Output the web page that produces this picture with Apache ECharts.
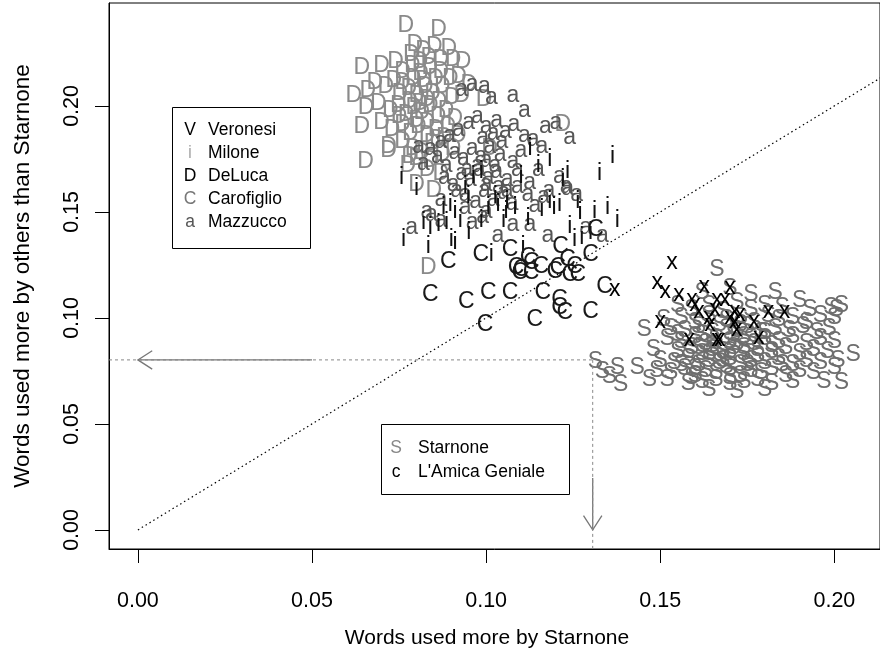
<!DOCTYPE html>
<html>
<head>
<meta charset="utf-8">
<script src="https://cdn.jsdelivr.net/npm/echarts@6/dist/echarts.min.js"></script>
<style>
html, body { margin: 0; padding: 0; background: #fff; }
#chart { width: 880px; height: 658px; }
</style>
</head>
<body>
<div id="chart"></div>
<script>
// tick labels
const xTicks = [0, 0.05, 0.10, 0.15, 0.20];
const yTicks = [0, 0.05, 0.10, 0.15, 0.20];

// D = DeLuca
const deLuca = [
  [0.0769,0.238],[0.0863,0.236],[0.0795,0.229],[0.0820,0.226],[0.0851,0.228],[0.0893,0.227],[0.0905,0.222],[0.0934,0.221],
  [0.0643,0.218],[0.0700,0.219],[0.0740,0.221],[0.0760,0.216],[0.0788,0.219],[0.0812,0.215],[0.0838,0.218],[0.0870,0.216],[0.0897,0.213],[0.0921,0.214],[0.0950,0.210],
  [0.0620,0.205],[0.0660,0.207],[0.0680,0.211],[0.0712,0.209],[0.0735,0.212],[0.0752,0.206],[0.0778,0.208],[0.0801,0.205],[0.0825,0.209],[0.0846,0.206],[0.0874,0.209],[0.0902,0.204],[0.0930,0.205],[0.0994,0.203],
  [0.0655,0.199],[0.0690,0.201],[0.0725,0.198],[0.0748,0.200],[0.0770,0.196],[0.0792,0.199],[0.0815,0.197],[0.0840,0.200],[0.0862,0.195],[0.0885,0.198],[0.0910,0.194],
  [0.0643,0.190],[0.0700,0.192],[0.0730,0.189],[0.0760,0.191],[0.0782,0.187],[0.0805,0.190],[0.0830,0.186],[0.0856,0.189],[0.0880,0.185],[0.0920,0.186],
  [0.0720,0.181],[0.0760,0.183],[0.0790,0.180],[0.0815,0.178],[0.0845,0.182],[0.0875,0.177],
  [0.0654,0.1736],[0.0720,0.179],[0.0775,0.172],[0.0800,0.175],[0.0830,0.170],[0.0870,0.168],
  [0.0800,0.163],[0.0850,0.160],[0.0834,0.1236],[0.1220,0.191],[0.1010,0.180],
  [0.0785,0.224],[0.0810,0.221],[0.0835,0.223],[0.0870,0.222],[0.0760,0.211],[0.0790,0.213],[0.0820,0.212],[0.0855,0.213],[0.0780,0.202],[0.0810,0.201],
  [0.0830,0.203],[0.0865,0.202],[0.0750,0.195],[0.0800,0.193],[0.0830,0.192],[0.0860,0.184],[0.0890,0.190],[0.0905,0.180],[0.0780,0.176],[0.0840,0.174]
];

// a = Mazzucco
const mazzucco = [
  [0.0930,0.2075],[0.0960,0.210],[0.0995,0.209],[0.1015,0.204],[0.1077,0.205],[0.1110,0.198],[0.1170,0.190],[0.1240,0.185],[0.1200,0.192],
  [0.0806,0.181],[0.0840,0.180],[0.0870,0.183],[0.0895,0.186],[0.0920,0.189],[0.0950,0.192],[0.0975,0.195],[0.1000,0.190],[0.1030,0.193],[0.1055,0.188],[0.1080,0.191],[0.1110,0.186],[0.1135,0.184],[0.1160,0.181],
  [0.0820,0.173],[0.0860,0.176],[0.0885,0.172],[0.0910,0.178],[0.0935,0.175],[0.0960,0.180],[0.0985,0.176],[0.1010,0.181],[0.1040,0.177],[0.1077,0.1736],[0.1100,0.179],[0.1150,0.170],[0.1210,0.1665],[0.1230,0.162],
  [0.0880,0.166],[0.0905,0.163],[0.0930,0.168],[0.0955,0.165],[0.0980,0.170],[0.1005,0.166],[0.1030,0.169],[0.1060,0.165],[0.1090,0.162],[0.1125,0.164],[0.1180,0.160],[0.1234,0.161],
  [0.0940,0.158],[0.0970,0.155],[0.0995,0.160],[0.1020,0.156],[0.1050,0.159],[0.1075,0.154],[0.1140,0.153],[0.1165,0.157],[0.1260,0.158],
  [0.0786,0.1425],[0.0843,0.1486],[0.0870,0.146],[0.0940,0.152],[0.0990,0.148],[0.1034,0.139],[0.1077,0.144],[0.1126,0.144],[0.1177,0.139],[0.1286,0.1425],[0.1334,0.139],
  [0.0830,0.150],[0.0960,0.145],[0.1000,0.150],
  [0.0990,0.185],[0.1020,0.187],[0.1045,0.183],[0.0975,0.172],[0.1000,0.174],[0.1025,0.172],[0.0945,0.170],[0.1060,0.160],[0.1035,0.162],[0.1000,0.163],
  [0.0915,0.160],[0.1120,0.158],[0.0870,0.156],[0.1090,0.170]
];

// i = Milone
const milone = [
  [0.0757,0.166],[0.0800,0.161],[0.1363,0.176],[0.1326,0.168],[0.1349,0.152],[0.1377,0.146],[0.1311,0.150],[0.1263,0.1547],[0.1270,0.1495],[0.1254,0.1368],
  [0.1275,0.138],[0.1211,0.1533],[0.1195,0.152],[0.1183,0.1547],[0.1160,0.151],[0.1100,0.1665],[0.1083,0.152],[0.1057,0.150],[0.1106,0.1335],[0.1006,0.152],
  [0.0986,0.146],[0.0926,0.146],[0.0911,0.150],[0.0897,0.1533],[0.0878,0.152],[0.0886,0.1448],[0.0863,0.1439],[0.0840,0.1425],[0.0834,0.1335],[0.0900,0.1368],
  [0.0911,0.1354],[0.0763,0.1368],[0.1234,0.169],[0.1183,0.1745],[0.1150,0.172],[0.1126,0.180],[0.0949,0.157],[0.0940,0.162],[0.1026,0.157],[0.1034,0.1533],
  [0.1060,0.155],[0.0986,0.169],[0.0963,0.1665],[0.1220,0.165],[0.1015,0.1297],[0.1050,0.146],[0.1120,0.147],[0.1240,0.143],[0.0950,0.140],[0.0820,0.145],[0.1300,0.140]
];

// C = Carofiglio
const carofiglio = [
  [0.0891,0.1264],[0.0840,0.1108],[0.0943,0.1075],[0.1006,0.1118],[0.0997,0.0967],[0.1069,0.1118],[0.0985,0.1297],[0.1069,0.132],[0.1120,0.1283],[0.1130,0.126],
  [0.1100,0.1226],[0.1086,0.1236],[0.1097,0.1212],[0.1129,0.1212],[0.1157,0.124],[0.1163,0.1118],[0.1140,0.099],[0.1211,0.1085],[0.1211,0.105],[0.1226,0.1024],
  [0.1300,0.1028],[0.1214,0.1335],[0.1300,0.1297],[0.1314,0.1415],[0.1234,0.1274],[0.1254,0.124],[0.1206,0.1236],[0.1197,0.1217],[0.1240,0.1203],[0.1263,0.1203],[0.1340,0.1146]
];

// S = Starnone
const starnone = [
  [0.1663,0.1226],[0.1620,0.112],[0.1700,0.114],[0.1760,0.111],[0.1830,0.112],[0.1900,0.108],
  [0.1550,0.106],[0.1590,0.104],[0.1640,0.106],[0.1680,0.103],[0.1720,0.107],[0.1760,0.104],[0.1800,0.106],[0.1850,0.105],[0.1930,0.104],[0.1990,0.105],[0.2006,0.1038],[0.2020,0.106],
  [0.1510,0.099],[0.1560,0.100],[0.1600,0.098],[0.1640,0.101],[0.1690,0.099],[0.1730,0.100],[0.1770,0.098],[0.1810,0.101],[0.1840,0.099],[0.1880,0.100],[0.1920,0.098],[0.1960,0.101],[0.2000,0.100],
  [0.1454,0.0943],[0.1530,0.095],[0.1570,0.094],[0.1610,0.096],[0.1650,0.093],[0.1690,0.095],[0.1720,0.094],[0.1750,0.096],[0.1790,0.093],[0.1830,0.095],[0.1870,0.094],[0.1910,0.096],[0.1950,0.093],[0.1985,0.095],
  [0.1520,0.090],[0.1560,0.089],[0.1600,0.091],[0.1630,0.088],[0.1660,0.090],[0.1700,0.089],[0.1740,0.091],[0.1770,0.088],[0.1800,0.090],[0.1840,0.089],[0.1880,0.091],[0.1920,0.088],[0.1960,0.090],[0.2000,0.089],
  [0.1480,0.085],[0.1550,0.084],[0.1590,0.086],[0.1620,0.083],[0.1650,0.085],[0.1680,0.084],[0.1710,0.086],[0.1740,0.083],[0.1780,0.085],[0.1820,0.084],[0.1860,0.086],[0.1900,0.083],[0.1940,0.085],[0.1980,0.084],[0.2054,0.0825],
  [0.1314,0.0792],[0.1500,0.080],[0.1540,0.079],[0.1580,0.081],[0.1610,0.078],[0.1640,0.080],[0.1670,0.079],[0.1700,0.081],[0.1730,0.078],[0.1760,0.080],[0.1800,0.079],[0.1840,0.081],[0.1880,0.078],[0.1920,0.080],[0.1960,0.079],[0.2010,0.080],
  [0.1334,0.0745],[0.1377,0.0764],[0.1434,0.0764],[0.1490,0.075],[0.1530,0.074],[0.1570,0.076],[0.1600,0.073],[0.1630,0.075],[0.1660,0.074],[0.1700,0.076],[0.1730,0.073],[0.1760,0.075],[0.1790,0.074],[0.1820,0.076],[0.1860,0.073],[0.1900,0.075],[0.1940,0.074],[0.2000,0.0764],
  [0.1354,0.0722],[0.1386,0.0684],[0.1469,0.0708],[0.1520,0.071],[0.1580,0.069],[0.1620,0.070],[0.1660,0.071],[0.1700,0.069],[0.1740,0.070],[0.1780,0.071],[0.1820,0.069],[0.1880,0.070],[0.1970,0.070],[0.2020,0.0693],
  [0.1640,0.066],[0.1720,0.065],[0.1800,0.066],
  [0.1620,0.092],[0.1650,0.087],[0.1680,0.080],[0.1700,0.084],[0.1720,0.088],[0.1690,0.077],[0.1710,0.092],[0.1740,0.086],[0.1760,0.090],[0.1780,0.082],
  [0.1750,0.078],[0.1640,0.083],[0.1610,0.086],[0.1580,0.084],[0.1600,0.076],[0.1560,0.078],[0.1660,0.082],[0.1730,0.097],[0.1670,0.097],[0.1800,0.093],
  [0.1820,0.087],[0.1850,0.078],[0.1550,0.092],[0.1700,0.072],[0.1590,0.072]
];

// x = L'Amica Geniale
const amicaGeniale = [
  [0.1534,0.126],[0.1369,0.1132],[0.1491,0.1165],[0.1514,0.1123],[0.1554,0.1108],[0.1591,0.1085],[0.1626,0.1146],[0.1600,0.1061],[0.1611,0.1028],[0.1657,0.1038],
  [0.1663,0.1085],[0.1686,0.1085],[0.1700,0.1141],[0.1640,0.1000],[0.1643,0.0967],[0.1500,0.0981],[0.1583,0.0896],[0.1663,0.0896],[0.1671,0.0896],[0.1714,0.0981],
  [0.1714,0.1028],[0.1729,0.1014],[0.1720,0.0943],[0.1769,0.0981],[0.1783,0.0906],[0.1811,0.1028],[0.1857,0.1028],[0.1700,0.1000]
];

// guide lines and arrows
const diagonal = [[0, 0], [0.25, 0.25]];
const cutX = 0.1306;
const cutY = 0.0802;
const arrows = [[0.05, cutY, 0, cutY], [cutX, 0.0245, cutX, 0]];

const xMin = -0.0083, xMax = 0.2131;
const yMin = -0.0090, yMax = 0.24855;

const FONT = '"Liberation Sans", Arial, sans-serif';

function letterSeries(name, letter, color, data) {
  return {
    type: 'custom',
    name: name,
    data: data,
    renderItem: function (params, api) {
      const p = api.coord([api.value(0), api.value(1)]);
      return {
        type: 'text',
        x: p[0],
        y: p[1],
        style: {
          text: letter,
          fill: color,
          font: '23px ' + FONT,
          align: 'center',
          verticalAlign: 'middle'
        }
      };
    }
  };
}

const chart = echarts.init(document.getElementById('chart'));

const option = {
  animation: false,
  grid: { left: 109, top: 3, width: 775, height: 546, show: true, borderColor: '#000', borderWidth: 1 },
  xAxis: {
    type: 'value', min: xMin, max: xMax,
    splitLine: { show: false },
    axisLine: { show: true, onZero: false, lineStyle: { color: '#000' } },
    axisTick: { show: true, length: 14, customValues: xTicks, lineStyle: { color: '#000' } },
    axisLabel: { customValues: xTicks, formatter: v => v.toFixed(2), margin: 41, fontSize: 21.5, color: '#000', fontFamily: FONT },
    name: 'Words used more by Starnone',
    nameLocation: 'middle', nameGap: 79,
    nameTextStyle: { fontSize: 21, color: '#000', fontFamily: FONT, padding: [0, 15, 0, 0] }
  },
  yAxis: {
    type: 'value', min: yMin, max: yMax,
    splitLine: { show: false },
    axisLine: { show: true, onZero: false, lineStyle: { color: '#000' } },
    axisTick: { show: true, length: 14, customValues: yTicks, lineStyle: { color: '#000' } },
    axisLabel: { customValues: yTicks, formatter: v => v.toFixed(2), rotate: 90, margin: 26, fontSize: 21.5, color: '#000', fontFamily: FONT },
    name: 'Words used more by others than Starnone',
    nameLocation: 'middle', nameRotate: 90, nameGap: 75,
    nameTextStyle: { fontSize: 22.5, color: '#000', fontFamily: FONT }
  },
  series: [
    letterSeries('DeLuca', 'D', '#8a8a8a', deLuca),
    letterSeries('Mazzucco', 'a', '#575757', mazzucco),
    letterSeries('Milone', 'i', '#111', milone),
    letterSeries('Carofiglio', 'C', '#1a1a1a', carofiglio),
    letterSeries('Starnone', 'S', '#6e6e6e', starnone),
    letterSeries("L'Amica Geniale", 'x', '#000', amicaGeniale),
    {
      type: 'line', data: diagonal, symbol: 'none', clip: true, silent: true,
      lineStyle: { color: '#000', width: 1.2, type: [1.5, 3] }
    },
    {
      type: 'line', data: [[xMin, cutY], [cutX, cutY]], symbol: 'none', silent: true,
      lineStyle: { color: '#888', width: 1, type: [3, 3] }
    },
    {
      type: 'line', data: [[cutX, cutY], [cutX, yMin]], symbol: 'none', silent: true,
      lineStyle: { color: '#888', width: 1, type: [3, 3] }
    },
    {
      type: 'custom', data: arrows, silent: true,
      renderItem: function (params, api) {
        const a = api.coord([api.value(0), api.value(1)]);
        const b = api.coord([api.value(2), api.value(3)]);
        const ang = Math.atan2(b[1] - a[1], b[0] - a[0]);
        const L = 17, h = Math.PI / 5.5;
        const h1 = [b[0] - L * Math.cos(ang - h), b[1] - L * Math.sin(ang - h)];
        const h2 = [b[0] - L * Math.cos(ang + h), b[1] - L * Math.sin(ang + h)];
        const st = { stroke: '#777', lineWidth: 1.3, fill: null };
        return {
          type: 'group',
          children: [
            { type: 'line', shape: { x1: a[0], y1: a[1], x2: b[0], y2: b[1] }, style: st },
            { type: 'polyline', shape: { points: [h1, b, h2] }, style: st }
          ]
        };
      }
    }
  ],
  graphic: [
    { type: 'rect', z: 100, shape: { x: 172.5, y: 107.5, width: 138, height: 141 }, style: { fill: '#fff', stroke: '#000', lineWidth: 1 } },
    { type: 'text', z: 101, x: 190, y: 130, style: { text: 'V', fill: '#000', font: '17.5px ' + FONT, align: 'center', verticalAlign: 'middle' } },
    { type: 'text', z: 101, x: 190, y: 153, style: { text: 'i', fill: '#aaa', font: '17.5px ' + FONT, align: 'center', verticalAlign: 'middle' } },
    { type: 'text', z: 101, x: 190, y: 176, style: { text: 'D', fill: '#000', font: '17.5px ' + FONT, align: 'center', verticalAlign: 'middle' } },
    { type: 'text', z: 101, x: 190, y: 199, style: { text: 'C', fill: '#777', font: '17.5px ' + FONT, align: 'center', verticalAlign: 'middle' } },
    { type: 'text', z: 101, x: 190, y: 222, style: { text: 'a', fill: '#555', font: '17.5px ' + FONT, align: 'center', verticalAlign: 'middle' } },
    { type: 'text', z: 101, x: 208, y: 130, style: { text: 'Veronesi', fill: '#000', font: '17.5px ' + FONT, verticalAlign: 'middle' } },
    { type: 'text', z: 101, x: 208, y: 153, style: { text: 'Milone', fill: '#000', font: '17.5px ' + FONT, verticalAlign: 'middle' } },
    { type: 'text', z: 101, x: 208, y: 176, style: { text: 'DeLuca', fill: '#000', font: '17.5px ' + FONT, verticalAlign: 'middle' } },
    { type: 'text', z: 101, x: 208, y: 199, style: { text: 'Carofiglio', fill: '#000', font: '17.5px ' + FONT, verticalAlign: 'middle' } },
    { type: 'text', z: 101, x: 208, y: 222, style: { text: 'Mazzucco', fill: '#000', font: '17.5px ' + FONT, verticalAlign: 'middle' } },

    { type: 'rect', z: 100, shape: { x: 381.5, y: 424.5, width: 188, height: 70 }, style: { fill: '#fff', stroke: '#000', lineWidth: 1 } },
    { type: 'text', z: 101, x: 396, y: 448, style: { text: 'S', fill: '#888', font: '17.5px ' + FONT, align: 'center', verticalAlign: 'middle' } },
    { type: 'text', z: 101, x: 396, y: 472, style: { text: 'c', fill: '#000', font: '17.5px ' + FONT, align: 'center', verticalAlign: 'middle' } },
    { type: 'text', z: 101, x: 418, y: 448, style: { text: 'Starnone', fill: '#000', font: '17.5px ' + FONT, verticalAlign: 'middle' } },
    { type: 'text', z: 101, x: 418, y: 472, style: { text: "L'Amica Geniale", fill: '#000', font: '17.5px ' + FONT, verticalAlign: 'middle' } }
  ]
};

chart.setOption(option);
</script>
</body>
</html>
